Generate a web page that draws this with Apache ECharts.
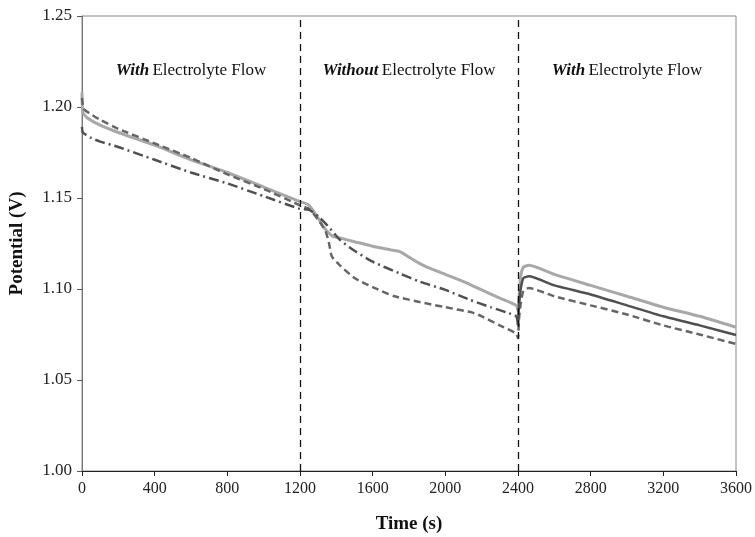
<!DOCTYPE html>
<html>
<head>
<meta charset="utf-8">
<script src="https://cdn.jsdelivr.net/npm/echarts@6/dist/echarts.min.js"></script>
<style>
  html, body { margin: 0; padding: 0; background: #fff; }
  #chart { width: 755px; height: 537px; }
</style>
</head>
<body>
<div id="chart"></div>
<script>
// light grey solid line
const solidT = [0, 5, 30, 100, 200, 400, 600, 800, 1000, 1200, 1250, 1300, 1330, 1380, 1420, 1500, 1600, 1700, 1750, 1800, 1850, 1900, 2000, 2100, 2200, 2300, 2390, 2400, 2405, 2415, 2430, 2460, 2600, 2800, 3000, 3200, 3400, 3600];
const solidV = [1.208, 1.197, 1.194, 1.190, 1.186, 1.179, 1.171, 1.164, 1.156, 1.148, 1.146, 1.139, 1.134, 1.129, 1.128, 1.126, 1.1235, 1.1215, 1.1205, 1.1175, 1.1145, 1.112, 1.108, 1.104, 1.0995, 1.095, 1.091, 1.088, 1.095, 1.107, 1.112, 1.113, 1.108, 1.102, 1.096, 1.090, 1.085, 1.079];

// dark dash-dot line (draws solid after the flow restarts)
const dashDotT = [0, 5, 50, 100, 200, 400, 600, 800, 1000, 1200, 1250, 1300, 1350, 1420, 1500, 1600, 1750, 1860, 2000, 2136, 2250, 2340, 2390, 2400, 2405, 2415, 2430, 2460, 2600, 2800, 3000, 3200, 3400, 3600];
const dashDotV = [1.189, 1.186, 1.183, 1.181, 1.178, 1.171, 1.164, 1.158, 1.151, 1.144, 1.1435, 1.140, 1.135, 1.127, 1.121, 1.115, 1.1085, 1.104, 1.0995, 1.094, 1.090, 1.087, 1.085, 1.080, 1.090, 1.100, 1.106, 1.107, 1.102, 1.097, 1.091, 1.085, 1.080, 1.0747];

// dark dashed line
const dashedT = [0, 10, 50, 100, 200, 400, 600, 800, 1000, 1200, 1250, 1300, 1340, 1360, 1375, 1420, 1500, 1600, 1721, 1900, 2000, 2150, 2200, 2300, 2390, 2400, 2405, 2415, 2430, 2460, 2600, 2800, 3000, 3200, 3400, 3600];
const dashedV = [1.205, 1.199, 1.196, 1.193, 1.188, 1.180, 1.172, 1.163, 1.155, 1.146, 1.144, 1.138, 1.132, 1.125, 1.118, 1.113, 1.106, 1.101, 1.096, 1.092, 1.090, 1.087, 1.085, 1.080, 1.0755, 1.073, 1.083, 1.092, 1.099, 1.1005, 1.096, 1.091, 1.086, 1.080, 1.075, 1.0698];

// flow switch times and section labels
const switchTimes = [1200, 2400];
const sectionCenters = [600, 1800, 3000];
const sectionBold = ['With', 'Without', 'With'];
const sectionText = 'Electrolyte Flow';
const labelLevel = 1.22;

const pairs = (t, v) => t.map((x, i) => [x, v[i]]);
const restart = switchTimes[1];

const chart = echarts.init(document.getElementById('chart'));

const serif = '"Liberation Serif", "DejaVu Serif", serif';

const option = {
  backgroundColor: '#ffffff',
  animation: false,
  grid: {
    left: 82,
    right: 19,
    top: 16,
    bottom: 66,
    outerBoundsMode: 'none',
    show: true,
    borderColor: '#888',
    borderWidth: 1
  },
  xAxis: {
    type: 'value',
    min: 0,
    max: 3600,
    interval: 400,
    name: 'Time (s)',
    nameLocation: 'middle',
    nameGap: 44,
    nameTextStyle: { fontFamily: serif, fontSize: 19, fontWeight: 'bold', color: '#111' },
    axisLine: { lineStyle: { color: '#222', width: 1 } },
    axisTick: { show: true, length: 5, lineStyle: { color: '#222' } },
    axisLabel: { fontFamily: serif, fontSize: 16, color: '#222', margin: 10, formatter: v => String(v) },
    splitLine: { show: false }
  },
  yAxis: {
    type: 'value',
    min: 1.0,
    max: 1.25,
    interval: 0.05,
    name: 'Potential (V)',
    nameLocation: 'middle',
    nameGap: 55,
    nameTextStyle: { fontFamily: serif, fontSize: 19, fontWeight: 'bold', color: '#111' },
    axisLine: { show: true, lineStyle: { color: '#777', width: 1 } },
    axisTick: { show: true, length: 5, lineStyle: { color: '#555' } },
    axisLabel: {
      fontFamily: serif, fontSize: 17, color: '#222', margin: 10,
      formatter: v => v.toFixed(2)
    },
    splitLine: { show: false }
  },
  series: [
    {
      name: 'dashed',
      type: 'line',
      data: pairs(dashedT, dashedV),
      showSymbol: false,
      smooth: 0.2,
      lineStyle: { color: '#666666', width: 2.5, type: [7, 4] },
      z: 3
    },
    {
      name: 'dashdot',
      type: 'line',
      data: pairs(dashDotT, dashDotV).filter(p => p[0] <= restart),
      showSymbol: false,
      smooth: 0.2,
      lineStyle: { color: '#505050', width: 2.5, type: [10, 4, 2, 4] },
      z: 4
    },
    {
      name: 'dashdot-flow',
      type: 'line',
      data: pairs(dashDotT, dashDotV).filter(p => p[0] >= restart),
      showSymbol: false,
      smooth: 0.2,
      lineStyle: { color: '#505050', width: 2.5 },
      z: 4
    },
    {
      name: 'solid',
      type: 'line',
      data: pairs(solidT, solidV),
      showSymbol: false,
      smooth: 0.2,
      lineStyle: { color: '#a8a8a8', width: 3 },
      z: 2,
      markLine: {
        silent: true,
        symbol: 'none',
        label: { show: false },
        lineStyle: { color: '#111', width: 1.3, type: [7, 5] },
        data: switchTimes.map(t => ({ xAxis: t }))
      },
      markPoint: {
        silent: true,
        symbol: 'rect',
        symbolSize: 0,
        data: sectionCenters.map((t, i) => ({
          coord: [t, labelLevel],
          value: sectionBold[i]
        })),
        label: {
          show: true,
          position: 'inside',
          formatter: p => '{b|' + p.value + '} {n|' + sectionText + '}',
          rich: {
            b: { fontFamily: serif, fontSize: 17, fontWeight: 'bold', fontStyle: 'italic', color: '#111' },
            n: { fontFamily: serif, fontSize: 17, color: '#111' }
          }
        }
      }
    }
  ]
};

chart.setOption(option);
</script>
</body>
</html>
